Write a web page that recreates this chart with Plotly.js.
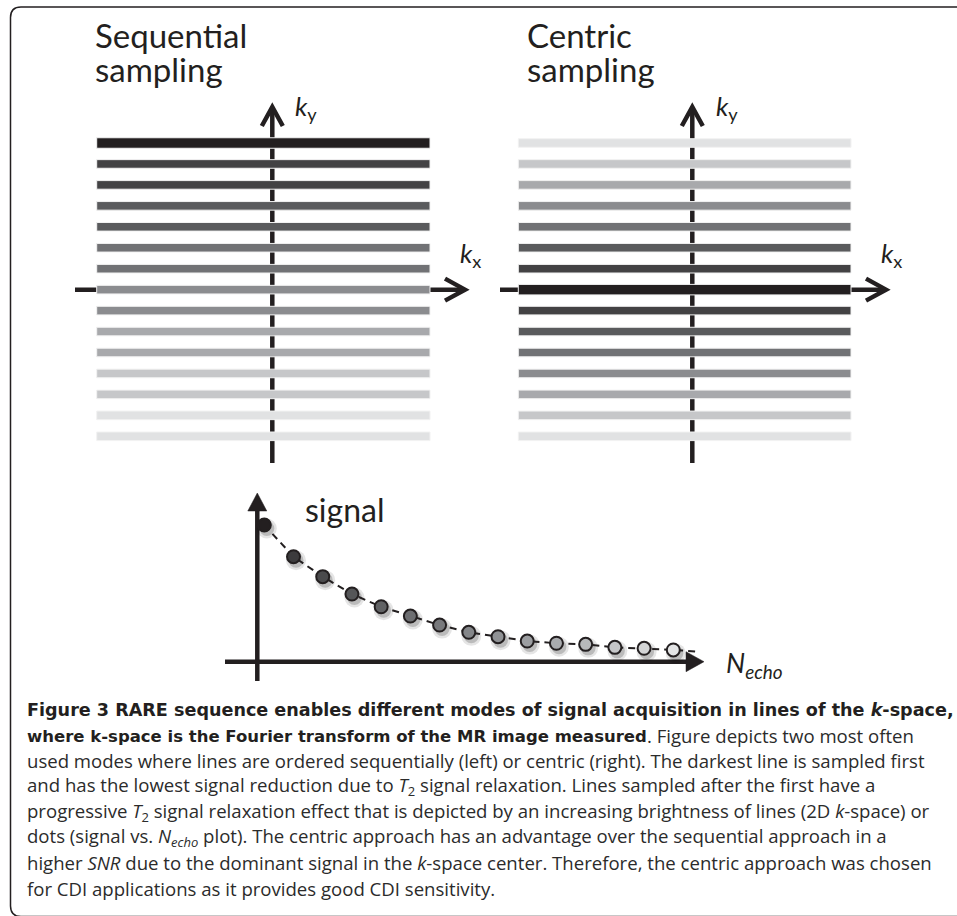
<!DOCTYPE html>
<html><head><meta charset="utf-8">
<script src="https://cdn.plot.ly/plotly-3.0.1.min.js"></script>
<style>html,body{margin:0;padding:0;background:#fff}</style>
</head><body><div id="chart" style="width:957px;height:916px"></div>
<script>
// ---------------- data ----------------
const kyRows = [7,6,5,4,3,2,1,0,-1,-2,-3,-4,-5,-6,-7];
const sequentialLevel = [0,1,1,2,2,3,3,4,4,5,5,6,6,7,7];
const centricLevel    = [7,6,5,4,3,2,1,0,1,2,3,4,5,6,7];
const levelGreys = ['#231f20','#434244','#5a5b5d','#717275','#8b8c8f','#a8a9ac','#c6c7c9','#e1e2e3'];
const kxExtent = [-1, 1];

const echoNumber  = [1,2,3,4,5,6,7,8,9,10,11,12,13,14,15];
const signalValue = [1.00,0.768,0.622,0.495,0.402,0.334,0.268,0.215,0.183,0.151,0.135,0.127,0.105,0.098,0.086];
const dotGreys = ['#231f20','#3c3b3d','#4a4a4c','#555658','#616264','#6d6e71','#78797c','#848689',
                  '#909295','#9c9ea1','#a9abae','#b7b9bb','#c5c6c8','#d3d4d5','#e3e4e5'];
const fitTailEcho = [15.9];
const fitTailSignal = [0.073];

const panelTitles = [['Sequential','sampling'],['Centric','sampling']];
const axisLabels = {ky:'<i>k</i><sub>y</sub>', kx:'<i>k</i><sub>x</sub>', signal:'signal', necho:'<i>N<sub>echo</sub></i>'};
const captionBold = ['Figure 3 RARE sequence enables different modes of signal acquisition in lines of the <i>k</i>-space,',
                     'where k-space is the Fourier transform of the MR image measured'];
const captionLines = [
  null,
  '. Figure depicts two most often',
  'used modes where lines are ordered sequentially (left) or centric (right). The darkest line is sampled first',
  'and has the lowest signal reduction due to <i>T</i><sub>2</sub> signal relaxation. Lines sampled after the first have a',
  'progressive <i>T</i><sub>2</sub> signal relaxation effect that is depicted by an increasing brightness of lines (2D <i>k</i>-space) or',
  'dots (signal vs. <i>N<sub>echo</sub></i> plot). The centric approach has an advantage over the sequential approach in a',
  'higher <i>SNR</i> due to the dominant signal in the <i>k</i>-space center. Therefore, the centric approach was chosen',
  'for CDI applications as it provides good CDI sensitivity.'
];

// ---------------- geometry helpers ----------------
const W = 957, H = 916, INK = '#231f20';
function mapper(v1,p1,v2,p2){ const s=(p2-p1)/(v2-v1); return {s, toPx:v=>p1+(v-v1)*s, toVal:p=>v1+(p-p1)/s}; }
function xAx(dom, m, anchor){ return {domain:[dom[0]/W, dom[1]/W], range:[m.toVal(dom[0]), m.toVal(dom[1])], visible:false, fixedrange:true, anchor}; }
function yAx(dom, m, anchor){ return {domain:[1-dom[1]/H, 1-dom[0]/H], range:[m.toVal(dom[1]), m.toVal(dom[0])], visible:false, fixedrange:true, anchor}; }

const panels = {
  L:{xm:mapper(-1,96.7,1,430), ym:mapper(7,143,-7,436.3), xd:[50,500], yd:[90,480], xa:'x', ya:'y', vAxPx:272.3, hAx:[75,467], vAx:[463,105]},
  R:{xm:mapper(-1,518.3,1,851), ym:mapper(7,143,-7,436.3), xd:[500,945], yd:[90,480], xa:'x2', ya:'y2', vAxPx:692.3, hAx:[498,888], vAx:[463,105]},
  S:{xm:mapper(1,264.3,15,673.3), ym:mapper(0,661.7,1,525), xd:[215,800], yd:[480,695], xa:'x3', ya:'y3'}
};

const shapes = [], annotations = [], traces = [];

function lineShape(p, x0,y0,x1,y1, w, layer){
  shapes.push({type:'line', xref:p.xa, yref:p.ya, x0:p.xm.toVal(x0), y0:p.ym.toVal(y0), x1:p.xm.toVal(x1), y1:p.ym.toVal(y1),
    line:{color:INK, width:w}, layer:layer||'below'});
}
function pathShape(p, pts, closed, w){
  const d = 'M' + pts.map(q => p.xm.toVal(q[0]) + ',' + p.ym.toVal(q[1])).join('L') + (closed?'Z':'');
  shapes.push({type:'path', xref:p.xa, yref:p.ya, path:d, line:{color:INK, width:w},
    fillcolor: closed ? INK : 'rgba(0,0,0,0)', layer:'above'});
}
function label(xPx, basePx, text, size, extra){
  return Object.assign({xref:'paper', yref:'paper', x:xPx/W, y:1-(basePx-0.39*size)/H, xanchor:'left', yanchor:'middle',
    text, showarrow:false, borderpad:0, font:{family:'Lato', size, color:INK}}, extra||{});
}

// ---------------- k-space panels ----------------
function kPanel(p, levels){
  const rowPx = Math.abs(p.ym.s);
  const zeroY = p.ym.toPx(0);
  lineShape(p, p.vAxPx, p.vAx[0], p.vAxPx, p.vAx[1]+4, 4.5);
  lineShape(p, p.hAx[0], zeroY, p.hAx[1]-4, zeroY, 4.5);
  const t = p.vAx[1]+2;
  pathShape(p, [[p.vAxPx-10.5, t+19],[p.vAxPx, t],[p.vAxPx+10.5, t+19]], false, 4.5);
  const h = p.hAx[1]-2;
  pathShape(p, [[h-20, zeroY-11],[h, zeroY],[h-20, zeroY+11]], false, 4.5);
  traces.push({type:'bar', orientation:'h', xaxis:p.xa, yaxis:p.ya,
    y:kyRows, x:kyRows.map(()=>kxExtent[1]-kxExtent[0]), base:kxExtent[0],
    width:levels.map(l => (l===0 ? 10.5 : 8.6)/rowPx),
    marker:{color:levels.map(l=>levelGreys[l]), line:{color:'#f2f2f2', width:1}},
    hoverinfo:'skip', showlegend:false});
}
kPanel(panels.L, sequentialLevel);
kPanel(panels.R, centricLevel);

// ---------------- signal panel ----------------
const S = panels.S;
lineShape(S, 257.3, 681, 257.3, 505, 4.5);
lineShape(S, 225, 661.7, 690, 661.7, 4.5);
pathShape(S, [[247.8,511],[257.3,493],[266.8,511]], true, 0.5);
pathShape(S, [[686,651.7],[704,661.7],[686,671.7]], true, 0.5);

const dxShadow = 2.5/S.xm.s, dyShadow = 3.5/S.ym.s;
traces.push({type:'scatter', mode:'markers', xaxis:'x3', yaxis:'y3', x:echoNumber.map(v=>v+dxShadow), y:signalValue.map(v=>v+dyShadow),
  marker:{size:20, color:'rgba(0,0,0,0.10)', line:{width:0}}, hoverinfo:'skip', cliponaxis:false});
traces.push({type:'scatter', mode:'markers', xaxis:'x3', yaxis:'y3', x:echoNumber.map(v=>v+dxShadow), y:signalValue.map(v=>v+dyShadow),
  marker:{size:15, color:'rgba(0,0,0,0.18)', line:{width:0}}, hoverinfo:'skip', cliponaxis:false});
traces.push({type:'scatter', mode:'lines', xaxis:'x3', yaxis:'y3', x:echoNumber.concat(fitTailEcho), y:signalValue.concat(fitTailSignal),
  line:{color:INK, width:2, dash:'7px,5px'}, hoverinfo:'skip'});
traces.push({type:'scatter', mode:'markers', xaxis:'x3', yaxis:'y3', x:echoNumber, y:signalValue,
  marker:{size:13, color:dotGreys, line:{color:INK, width:2}}, hoverinfo:'skip', cliponaxis:false});

// ---------------- text ----------------
const titleX = [94, 526];
panelTitles.forEach((t,i)=>{
  annotations.push(label(titleX[i], 48, t[0], 33));
  annotations.push(label(titleX[i], 82, t[1], 33));
});
annotations.push(label(294, 118, axisLabels.ky, 26));
annotations.push(label(459, 265, axisLabels.kx, 26));
annotations.push(label(715, 118, axisLabels.ky, 26));
annotations.push(label(880, 265, axisLabels.kx, 26));
annotations.push(label(304, 521.7, axisLabels.signal, 32));
annotations.push(label(725, 675, axisLabels.necho, 27));

const BOLD_FONT = 'DejaVu Sans', REG_FONT = 'Open Sans';
const capBase = [717, 742.5, 768, 793.5, 819, 844.5, 870, 895.5];
const capX = 26;
const boldIdx = [], regIdx = [];
captionBold.forEach((t,i)=>{
  boldIdx.push(annotations.length);
  annotations.push(label(capX, capBase[i], '<b>'+t+'</b>', 16, {font:{family:BOLD_FONT, size:16, color:INK}}));
});
captionLines.forEach((t,i)=>{
  if(t===null){ regIdx.push(null); return; }
  regIdx.push(annotations.length);
  annotations.push(label(i===1 ? 646 : capX, capBase[i], t, 17, {font:{family:REG_FONT, size:17, color:'#2b2b2b'}}));
});
// right edges of the reference caption text (layout targets used to fit font sizes)
const capRightBold = [953, 646], capRightRegular = 924;

// ---------------- border ----------------
function P(x,y){ return (x/W)+','+(1-y/H); }
shapes.push({type:'path', xref:'paper', yref:'paper', layer:'above', line:{color:INK, width:1.5}, fillcolor:'rgba(0,0,0,0)',
  path:'M'+P(965,7)+'L'+P(21,7)+'Q'+P(10.5,7)+' '+P(10.5,17.5)+'L'+P(10.5,906)+'Q'+P(10.5,916.5)+' '+P(21,916.5)+'L'+P(965,916.5)});

const layout = {
  width:W, height:H, margin:{l:0,r:0,t:0,b:0}, paper_bgcolor:'#ffffff', plot_bgcolor:'rgba(0,0,0,0)',
  showlegend:false, barmode:'overlay', hovermode:false,
  xaxis:xAx(panels.L.xd, panels.L.xm, 'y'),  yaxis:yAx(panels.L.yd, panels.L.ym, 'x'),
  xaxis2:xAx(panels.R.xd, panels.R.xm, 'y2'), yaxis2:yAx(panels.R.yd, panels.R.ym, 'x2'),
  xaxis3:xAx(panels.S.xd, panels.S.xm, 'y3'), yaxis3:yAx(panels.S.yd, panels.S.ym, 'x3'),
  shapes, annotations
};
Plotly.newPlot('chart', traces, layout, {displayModeBar:false, staticPlot:true}).then(gd=>{
  const width = i => { const n = gd.querySelector('.annotation[data-index="'+i+'"] .annotation-text'); return n ? n.getBBox().width : 0; };
  const wr = width(regIdx[2]);
  if(!wr) return;
  const sr = 17*(capRightRegular-capX)/wr;
  const upd = {};
  boldIdx.forEach((i,k)=>{
    const wb = width(i); if(!wb) return;
    const sb = 16*(capRightBold[k]-capX)/wb;
    upd['annotations['+i+'].font.size']=sb; upd['annotations['+i+'].y']=1-(capBase[k]-0.39*sb)/H;
  });
  regIdx.forEach((i,k)=>{ if(i===null) return; upd['annotations['+i+'].font.size']=sr; upd['annotations['+i+'].y']=1-(capBase[k]-0.39*sr)/H; });
  return Plotly.relayout(gd, upd).then(()=>{
    const w2 = width(boldIdx[1]);
    return Plotly.relayout(gd, {['annotations['+regIdx[1]+'].x']:(capX+w2)/W});
  });
});
</script></body></html>
